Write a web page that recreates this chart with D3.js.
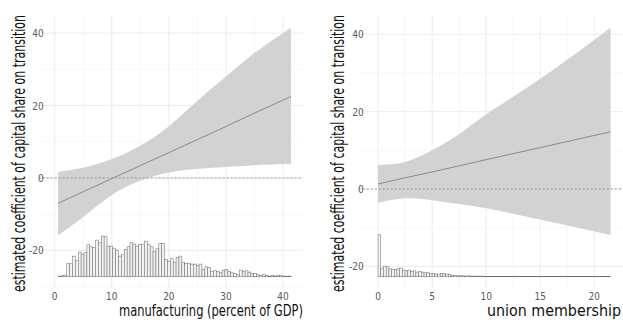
<!DOCTYPE html>
<html>
<head>
<meta charset="utf-8">
<script src="https://cdn.jsdelivr.net/npm/d3@7"></script>
<style>
  body { margin: 0; background: #fff; }
  text { font-family: "DejaVu Sans", sans-serif; font-stretch: condensed; }
</style>
</head>
<body>
<svg width="623" height="320"></svg>
<script>
// left panel: manufacturing
const mfgX = [0.6, 5, 10, 15, 20, 25, 30, 35, 41.4];
const mfgEst = [-7, -3.8, -0.2, 3.4, 7.0, 10.6, 14.2, 17.9, 22.5];
const mfgUpper = [1.7, 2.8, 5.2, 8.9, 14.3, 21.3, 28, 34.5, 41.5];
const mfgLower = [-15.8, -10.8, -4.7, -0.8, 1.5, 2.5, 3.0, 3.5, 3.9];
const mfgHistStart = 0.6;
const mfgHistWidth = 0.504;
const mfgHist = [2,3,5,39,39,62,48,74,68,72,96,90,88,110,102,122,120,92,92,86,80,62,66,82,90,102,98,92,96,98,107,96,90,76,84,100,100,52,46,54,44,58,62,44,40,40,38,38,34,38,22,30,28,16,18,16,12,20,22,16,12,10,6,20,16,18,14,10,10,6,4,6,4,2,4,2,4,4,2,2,2];
const mfgXTicks = [0, 10, 20, 30, 40];
const mfgXMinor = [5, 15, 25, 35];

// right panel: union membership
const unX = [0, 2.5, 5, 7.5, 10, 15, 21.5];
const unEst = [1.3, 2.9, 4.4, 6.0, 7.6, 10.7, 14.8];
const unUpper = [6.2, 7.0, 10.0, 14.2, 19.3, 28.5, 41.7];
const unLower = [-3.6, -2.4, -2.9, -3.9, -5.0, -7.9, -11.9];
const unHistStart = 0;
const unHistWidth = 0.25;
const unHist = [126,26,32,30,24,22,22,24,26,20,18,20,16,18,14,16,14,12,12,10,10,8,8,10,10,8,8,4,4,3,3,3,2,3,2,2,2,2,2,1.5,
  1,1,1,1,1,1,1,1,1,1,1,1,1,1,1,1,0.5,1,0.5,1,0.5,1,1,0.5,1,0.5,1,0.5,1,1,0.5,1,0.5,1,1,0.5,1,0.5,1,1,0.5,1,1,0.5,1,1];
const unXTicks = [0, 5, 10, 15, 20];
const unXMinor = [2.5, 7.5, 12.5, 17.5];

const yTicks = [-20, 0, 20, 40];
const yMinor = [-30, -10, 10, 30];

const yTitle = "estimated coefficient of capital share on transition";

const svg = d3.select('svg');

const drawPanel = (opt) => {
    const g = svg.append('g');
    const x = d3.scaleLinear().domain(opt.xDomain).range([opt.left, opt.right]);
    const y = d3.scaleLinear().domain(opt.yDomain).range([288, 15]);
    const hy = d3.scaleLinear().domain([0, 126]).range([0, 42]);

    // grid
    const grid = g.append('g');
    grid.selectAll('.vmin').data(opt.xMinor).enter().append('line')
        .attr('x1', d => x(d)).attr('x2', d => x(d)).attr('y1', 15).attr('y2', 288)
        .attr('stroke', '#f4f4f4').attr('stroke-width', 0.6);
    grid.selectAll('.hmin').data(yMinor.filter(d => y(d) >= 15 && y(d) <= 288)).enter().append('line')
        .attr('x1', opt.left - 8).attr('x2', opt.right).attr('y1', d => y(d)).attr('y2', d => y(d))
        .attr('stroke', '#f4f4f4').attr('stroke-width', 0.6);
    grid.selectAll('.vmaj').data(opt.xTicks).enter().append('line')
        .attr('x1', d => x(d)).attr('x2', d => x(d)).attr('y1', 15).attr('y2', 288)
        .attr('stroke', '#ebebeb').attr('stroke-width', 0.9);
    grid.selectAll('.hmaj').data(yTicks).enter().append('line')
        .attr('x1', opt.left - 8).attr('x2', opt.right).attr('y1', d => y(d)).attr('y2', d => y(d))
        .attr('stroke', '#ebebeb').attr('stroke-width', 0.9);

    // confidence band
    const pts = opt.xs.map((d, i) => ({x: d, lo: opt.lower[i], hi: opt.upper[i], est: opt.est[i]}));
    g.append('path')
        .attr('d', d3.area().x(d => x(d.x)).y0(d => y(d.lo)).y1(d => y(d.hi)).curve(d3.curveNatural)(pts))
        .attr('fill', '#d2d2d2');

    // zero line
    g.append('line')
        .attr('x1', opt.left - 8).attr('x2', opt.right).attr('y1', y(0)).attr('y2', y(0))
        .attr('stroke', '#777').attr('stroke-width', 0.7).attr('stroke-dasharray', '2,2');

    // estimate
    g.append('path')
        .attr('d', d3.line().x(d => x(d.x)).y(d => y(d.est))(pts))
        .attr('fill', 'none').attr('stroke', '#777').attr('stroke-width', 0.8);

    // histogram
    const base = y(opt.histBase);
    g.selectAll('.bar').data(opt.hist).enter().append('rect')
        .attr('x', (d, i) => x(opt.histStart + i * opt.histWidth))
        .attr('width', x(opt.histWidth) - x(0))
        .attr('y', d => base - hy(d))
        .attr('height', d => hy(d))
        .attr('fill', '#f2f2f2').attr('stroke', '#6a6a6a').attr('stroke-width', 0.5);

    // tick labels
    g.selectAll('.xt').data(opt.xTicks).enter().append('text')
        .attr('x', d => x(d)).attr('y', 300)
        .attr('text-anchor', 'middle').attr('font-size', 10).attr('fill', '#5a5a5a')
        .text(d => d);
    g.selectAll('.yt').data(yTicks).enter().append('text')
        .attr('x', opt.left - 3).attr('y', d => y(d) + 4)
        .attr('text-anchor', 'end').attr('font-size', 10).attr('fill', '#5a5a5a')
        .text(d => d);

    // titles
    g.append('text')
        .attr('x', opt.titleRight).attr('y', 316)
        .attr('text-anchor', 'end').attr('font-size', 16).attr('fill', '#111')
        .attr('textLength', opt.xTitleLen).attr('lengthAdjust', 'spacingAndGlyphs')
        .text(opt.xTitle);
    g.append('text')
        .attr('transform', `translate(${opt.titleX},15) rotate(-90)`)
        .attr('text-anchor', 'end').attr('font-size', 17).attr('fill', '#111')
        .attr('textLength', 277).attr('lengthAdjust', 'spacingAndGlyphs')
        .text(yTitle);
};

drawPanel({
    left: 46.7, right: 303,
    xDomain: [-1.4, 43.5], yDomain: [-30.4, 45],
    xs: mfgX, est: mfgEst, upper: mfgUpper, lower: mfgLower,
    hist: mfgHist, histStart: mfgHistStart, histWidth: mfgHistWidth, histBase: -27.3,
    xTicks: mfgXTicks, xMinor: mfgXMinor,
    xTitle: 'manufacturing (percent of GDP)', xTitleLen: 184, titleRight: 303, titleX: 25
});

drawPanel({
    left: 366.7, right: 623,
    xDomain: [-1.05, 22.65], yDomain: [-25.6, 45],
    xs: unX, est: unEst, upper: unUpper, lower: unLower,
    hist: unHist, histStart: unHistStart, histWidth: unHistWidth, histBase: -22.7,
    xTicks: unXTicks, xMinor: unXMinor,
    xTitle: 'union membership', xTitleLen: 134, titleRight: 621, titleX: 344
});
</script>
</body>
</html>
